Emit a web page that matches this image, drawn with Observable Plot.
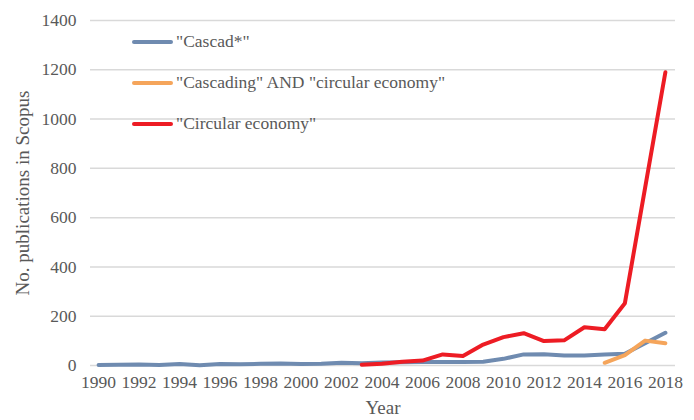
<!DOCTYPE html>
<html>
<head>
<meta charset="utf-8">
<script src="https://cdn.jsdelivr.net/npm/d3@7"></script>
<script src="https://cdn.jsdelivr.net/npm/@observablehq/plot@0.6"></script>
<style>
  body { margin: 0; background: #fff; }
  #wrap { position: relative; width: 694px; height: 420px; font-family: "Liberation Serif", serif; }
  #wrap svg text { font-family: "Liberation Serif", serif; }
  #legend { position: absolute; left: 132px; top: 21px; color: #595959; font-size: 17.5px; }
  .item { display: flex; align-items: center; height: 41px; }
  .sw { width: 41px; height: 4px; border-radius: 2px; margin-right: 3px; }
</style>
</head>
<body>
<div id="wrap"></div>
<script>
const years = d3.range(1990, 2019);
const cascadYears = years;
const cascadValues = [2,3,4,2,6,1,6,5,7,8,6,7,11,9,12,13,14,14,14,15,27,45,46,41,41,45,48,90,133];
const ceYears = d3.range(2003, 2019);
const ceValues = [3,7,15,20,45,39,85,115,131,99,102,155,147,253,722,1190];
const cascCeYears = [2015,2016,2017,2018];
const cascCeValues = [11,42,101,90];
const seriesNames = ['"Cascad*"', '"Cascading" AND "circular economy"', '"Circular economy"'];
const seriesColors = ["#6F8BB0", "#F5A55B", "#ED1C24"];
const xTicks = d3.range(1990, 2019, 2);
const yTicks = d3.range(0, 1401, 200);

const toRows = (xs, vs) => xs.map((x, i) => ({year: x, value: vs[i]}));
const cascad = toRows(cascadYears, cascadValues);
const cascCe = toRows(cascCeYears, cascCeValues);
const ce = toRows(ceYears, ceValues);

const font = "Liberation Serif";
const txt = {fontFamily: font, fill: "#595959"};
const chart = Plot.plot({
  width: 694,
  height: 420,
  marginLeft: 90,
  marginRight: 19,
  marginTop: 20,
  marginBottom: 55,
  x: {domain: [1989.6, 2018.5], axis: null},
  y: {domain: [0, 1400], axis: null},
  marks: [
    Plot.ruleY(yTicks, {stroke: "#d9d9d9", strokeWidth: 1.5}),
    Plot.text(xTicks, {x: d => d, text: d => String(d), frameAnchor: "bottom", dy: 22, fontSize: 17.5, ...txt}),
    Plot.text(yTicks, {y: d => d, text: d => String(d), frameAnchor: "left", textAnchor: "end", dx: -14, fontSize: 17.5, ...txt}),
    Plot.line(cascad, {x: "year", y: "value", stroke: seriesColors[0], strokeWidth: 4, strokeLinecap: "round", strokeLinejoin: "round"}),
    Plot.line(cascCe, {x: "year", y: "value", stroke: seriesColors[1], strokeWidth: 4, strokeLinecap: "round", strokeLinejoin: "round"}),
    Plot.line(ce, {x: "year", y: "value", stroke: seriesColors[2], strokeWidth: 4, strokeLinecap: "round", strokeLinejoin: "round"}),
    Plot.text(["Year"], {frameAnchor: "bottom", dy: 48, fontSize: 19, ...txt}),
    Plot.text(["No. publications in Scopus"], {frameAnchor: "left", dx: -68, rotate: -90, textAnchor: "middle", fontSize: 19, ...txt})
  ]
});
const wrap = document.getElementById("wrap");
wrap.appendChild(chart);
const legend = document.createElement("div");
legend.id = "legend";
seriesNames.forEach((n, i) => {
  const item = document.createElement("div");
  item.className = "item";
  const sw = document.createElement("span");
  sw.className = "sw";
  sw.style.background = seriesColors[i];
  const t = document.createElement("span");
  t.textContent = n;
  item.appendChild(sw);
  item.appendChild(t);
  legend.appendChild(item);
});
wrap.appendChild(legend);
</script>
</body>
</html>
